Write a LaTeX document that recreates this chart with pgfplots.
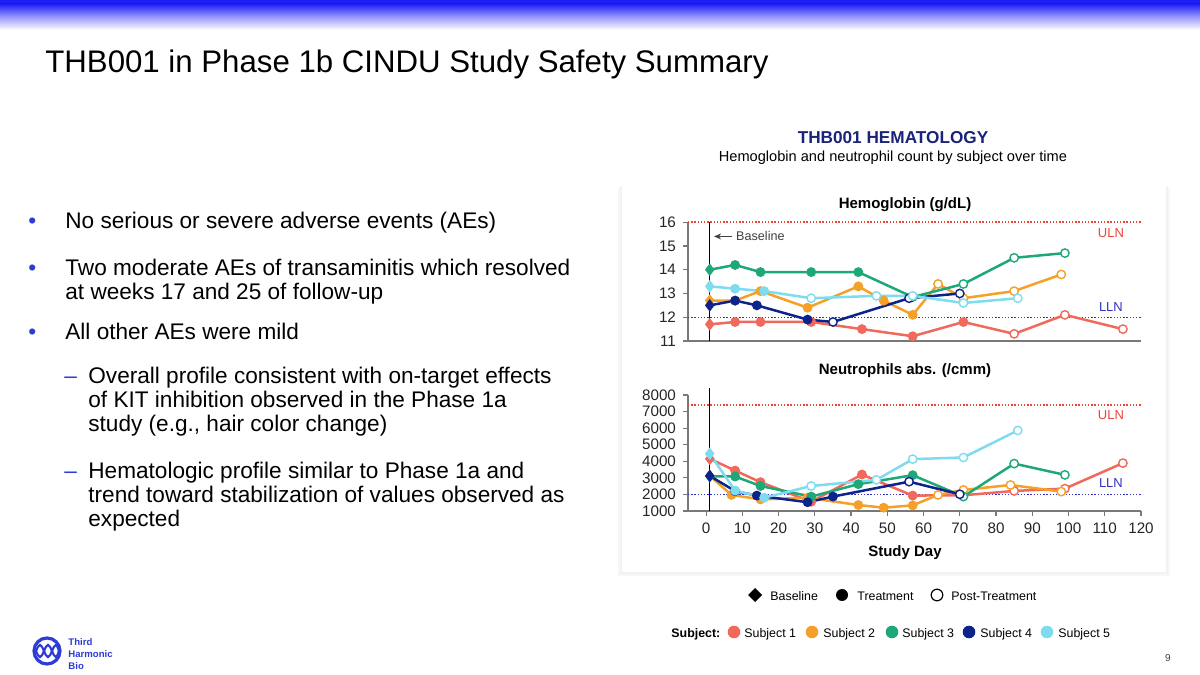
\documentclass[border=0pt]{standalone}
\usepackage{pgfplots}
\pgfplotsset{compat=1.18}
\usepackage{fontspec}
\setmainfont{Liberation Sans}
\usetikzlibrary{arrows.meta}
\definecolor{c1}{RGB}{240,105,90}
\definecolor{c2}{RGB}{245,160,40}
\definecolor{c3}{RGB}{30,168,120}
\definecolor{c4}{RGB}{12,35,140}
\definecolor{c5}{RGB}{125,220,240}
\definecolor{ulnred}{RGB}{232,70,60}
\definecolor{llnblue}{RGB}{50,50,200}
\definecolor{hdrblue}{RGB}{25,35,120}
\definecolor{logoblue}{RGB}{45,60,215}
\definecolor{gradblue}{RGB}{30,30,245}
\definecolor{axgray}{RGB}{120,120,120}
\definecolor{txtgray}{RGB}{64,64,64}

\pgfplotstableread{
x y c
1 11.7 b
8 11.8 t
15 11.8 t
29 11.8 t
43 11.5 t
57 11.2 t
71 11.8 t
85 11.3 p
99 12.1 p
115 11.5 p
}\hA
\pgfplotstableread{
x y c
1 12.7 b
8 12.7 t
15 13.1 t
28 12.4 t
42 13.3 t
49 12.7 t
57 12.1 t
64 13.4 p
71 12.8 p
85 13.1 p
98 13.8 p
}\hB
\pgfplotstableread{
x y c
1 14.0 b
8 14.2 t
15 13.9 t
29 13.9 t
42 13.9 t
57 12.85 t
71 13.4 p
85 14.5 p
99 14.7 p
}\hC
\pgfplotstableread{
x y c
1 12.5 b
8 12.7 t
14 12.5 t
28 11.9 t
35 11.8 p
56 12.8 p
70 13.0 p
}\hD
\pgfplotstableread{
x y c
1 13.3 b
8 13.2 t
16 13.1 t
29 12.8 p
47 12.9 p
57 12.9 p
71 12.6 p
86 12.8 p
}\hE

\pgfplotstableread{
x y c
1 4150 b
8 3440 t
15 2740 t
29 1560 t
43 3200 t
57 1930 t
71 1950 t
85 2210 p
99 2350 p
115 3890 p
}\nA
\pgfplotstableread{
x y c
1 3120 b
7 1970 t
15 1700 t
28 1800 t
42 1360 t
49 1200 t
57 1340 t
64 1970 p
71 2270 p
84 2570 p
98 2170 p
}\nB
\pgfplotstableread{
x y c
1 3100 b
8 3080 t
15 2510 t
29 1870 t
42 2620 t
57 3160 t
71 1870 p
85 3860 p
99 3180 p
}\nC
\pgfplotstableread{
x y c
1 3120 b
8 2200 t
14 1930 t
28 1530 t
35 1870 t
56 2770 p
70 2010 p
}\nD
\pgfplotstableread{
x y c
1 4450 b
8 2230 t
16 1800 t
29 2510 p
47 2880 p
57 4130 p
71 4230 p
86 5860 p
}\nE

\tikzset{lim/.style={line width=0.7pt, dash pattern=on 0.7pt off 0.9pt}}
\pgfplotsset{
  subj/.style={color=#1, line width=1.25pt, mark size=2.1pt,
     scatter, point meta=explicit symbolic,
     scatter/classes={b={mark=diamond*, mark size=2.6pt}, t={mark=*}, p={mark=*, fill=white}},
     mark options={line width=0.7pt, solid}},
  base/.style={scale only axis, width=226.5pt, xmin=-5, xmax=120,
     axis lines=left, axis line style={-, axgray, line width=0.8pt},
     tick style={axgray, line width=0.6pt}, tick align=outside, major tick length=2.5pt,
     ticklabel style={font=\fontsize{7.6}{8}\selectfont, text=black!85},
     /pgf/number format/assume math mode=true,
     /pgf/number format/1000 sep={},
     scaled y ticks=false,
     clip=false}
}

\begin{document}
\begin{tikzpicture}[x=0.5pt,y=0.5pt]
\fill[white] (0,0) rectangle (1200,675);
\path[use as bounding box] (0,0) rectangle (1200,675);
% top gradient band
\fill[gradblue] (0,675) rectangle (1200,671);
\shade[top color=gradblue, bottom color=white, middle color=gradblue!45] (0,671.2) rectangle (1200,645);

% title
\node[anchor=mid west, inner sep=0pt, font=\fontsize{15.6}{18}\selectfont] at (45,675-67) {THB001 in Phase 1b CINDU Study Safety Summary};

% bullets
\begin{scope}[every node/.style={anchor=mid west, inner sep=0pt, font=\fontsize{11.3}{13}\selectfont}]
\node[text=logoblue] at (28,675-223) {•};
\node at (65,675-223) {No serious or severe adverse events (AEs)};
\node[text=logoblue] at (28,675-270) {•};
\node at (65,675-270) {Two moderate AEs of transaminitis which resolved};
\node at (65,675-294) {at weeks 17 and 25 of follow-up};
\node[text=logoblue] at (28,675-334) {•};
\node at (65,675-334) {All other AEs were mild};
\node[text=logoblue] at (64,675-378) {–};
\node at (88,675-378) {Overall profile consistent with on-target effects};
\node at (88,675-402) {of KIT inhibition observed in the Phase 1a};
\node at (88,675-426) {study (e.g., hair color change)};
\node[text=logoblue] at (64,675-473) {–};
\node at (88,675-473) {Hematologic profile similar to Phase 1a and};
\node at (88,675-497) {trend toward stabilization of values observed as};
\node at (88,675-521) {expected};
\end{scope}

% chart header
\node[font=\bfseries\fontsize{8.6}{10}\selectfont, text=hdrblue] at (893,675-138) {THB001 HEMATOLOGY};
\node[font=\fontsize{7.3}{9}\selectfont] at (893,675-158) {Hemoglobin and neutrophil count by subject over time};

% panel with soft shadow
\fill[black!3] (618,675-188) rectangle (1170,675-576);
\fill[black!5] (620,675-186) rectangle (1168,675-574);
\fill[white] (622,675-185) rectangle (1166,675-572);

% chart titles
\node[font=\bfseries\fontsize{7.5}{9}\selectfont] at (905,675-205) {Hemoglobin (g/dL)};
\node[font=\bfseries\fontsize{7.5}{9}\selectfont] at (905,675-371) {Neutrophils abs. (/cmm)};
\node[font=\bfseries\fontsize{7.5}{9}\selectfont] at (905,675-553) {Study Day};

% Hemoglobin axis
\begin{axis}[base, at={(344pt,167pt)}, anchor=south west, height=59.4pt,
   ymin=11, ymax=16, ytick={11,12,...,16}, xtick=\empty]
\draw[black, line width=0.5pt] (axis cs:1,11) -- (axis cs:1,16);
\draw[lim, ulnred] (axis cs:-5,16) -- (axis cs:120,16);
\draw[lim, llnblue] (axis cs:-5,12) -- (axis cs:120,12);
\draw[-{Stealth[length=3.5pt,width=3pt]}, txtgray, line width=0.6pt] (axis cs:7.2,15.4) -- (axis cs:2.2,15.4);
\node[anchor=west, inner sep=0pt, text=txtgray, font=\fontsize{6.3}{7}\selectfont] at (axis cs:8.2,15.4) {Baseline};
\node[text=ulnred, font=\fontsize{6.5}{7}\selectfont] at (axis cs:111.7,15.55) {ULN};
\node[text=llnblue, font=\fontsize{6.5}{7}\selectfont] at (axis cs:111.7,12.45) {LLN};
\addplot[subj=c1] table[meta=c] {\hA};
\addplot[subj=c2] table[meta=c] {\hB};
\addplot[subj=c3] table[meta=c] {\hC};
\addplot[subj=c4] table[meta=c] {\hD};
\addplot[subj=c5] table[meta=c] {\hE};
\end{axis}

% Neutrophils axis
\begin{axis}[base, at={(344pt,82pt)}, anchor=south west, height=58pt,
   ymin=1000, ymax=8000, ytick={1000,2000,...,8000}, xtick={0,10,...,120}]
\draw[black, line width=0.5pt] (axis cs:1,1000) -- (axis cs:1,8450);
\draw[lim, ulnred] (axis cs:-5,7400) -- (axis cs:120,7400);
\draw[lim, llnblue] (axis cs:-5,2000) -- (axis cs:120,2000);
\node[text=ulnred, font=\fontsize{6.5}{7}\selectfont] at (axis cs:111.7,6800) {ULN};
\node[text=llnblue, font=\fontsize{6.5}{7}\selectfont] at (axis cs:111.7,2700) {LLN};
\addplot[subj=c1] table[meta=c] {\nA};
\addplot[subj=c2] table[meta=c] {\nB};
\addplot[subj=c3] table[meta=c] {\nC};
\addplot[subj=c4] table[meta=c] {\nD};
\addplot[subj=c5] table[meta=c] {\nE};
\end{axis}

% legend row 1
\begin{scope}[every node/.style={anchor=mid west, inner sep=0pt, font=\fontsize{6.2}{7}\selectfont}]
\fill[black] (755,675-588) -- (762,675-595) -- (755,675-602) -- (748,675-595) -- cycle;
\node at (770,675-595) {Baseline};
\fill[black] (842,675-595) circle (6);
\node at (857,675-595) {Treatment};
\draw[black, line width=0.6pt, fill=white] (937,675-595) circle (5.8);
\node at (951,675-595) {Post-Treatment};
% legend row 2
\node[font=\bfseries\fontsize{6.2}{7}\selectfont] at (671,675-632) {Subject:};
\fill[c1] (734,675-632) circle (6.3); \node at (744,675-632) {Subject 1};
\fill[c2] (812,675-632) circle (6.3); \node at (823,675-632) {Subject 2};
\fill[c3] (892,675-632) circle (6.3); \node at (902,675-632) {Subject 3};
\fill[c4] (969,675-632) circle (6.3); \node at (980,675-632) {Subject 4};
\fill[c5] (1047,675-632) circle (6.3); \node at (1058,675-632) {Subject 5};
\end{scope}

% logo
\draw[logoblue, line width=1.6pt] (47,675-651) circle (13);
\draw[logoblue, line width=1.1pt] (36,675-651) sin (40,675-645) cos (44,675-651) sin (48,675-657) cos (52,675-651) sin (56,675-645) cos (59,675-651);
\draw[logoblue, line width=1.1pt] (36,675-651) sin (40,675-657) cos (44,675-651) sin (48,675-645) cos (52,675-651) sin (56,675-657) cos (59,675-651);
\begin{scope}[every node/.style={anchor=mid west, inner sep=0pt, text=logoblue, font=\bfseries\fontsize{4.8}{5}\selectfont}]
\node at (68,675-640) {Third};
\node at (68,675-652) {Harmonic};
\node at (68,675-664) {Bio};
\end{scope}
\node[font=\fontsize{5}{6}\selectfont, text=txtgray] at (1168,675-658) {9};
\end{tikzpicture}
\end{document}
